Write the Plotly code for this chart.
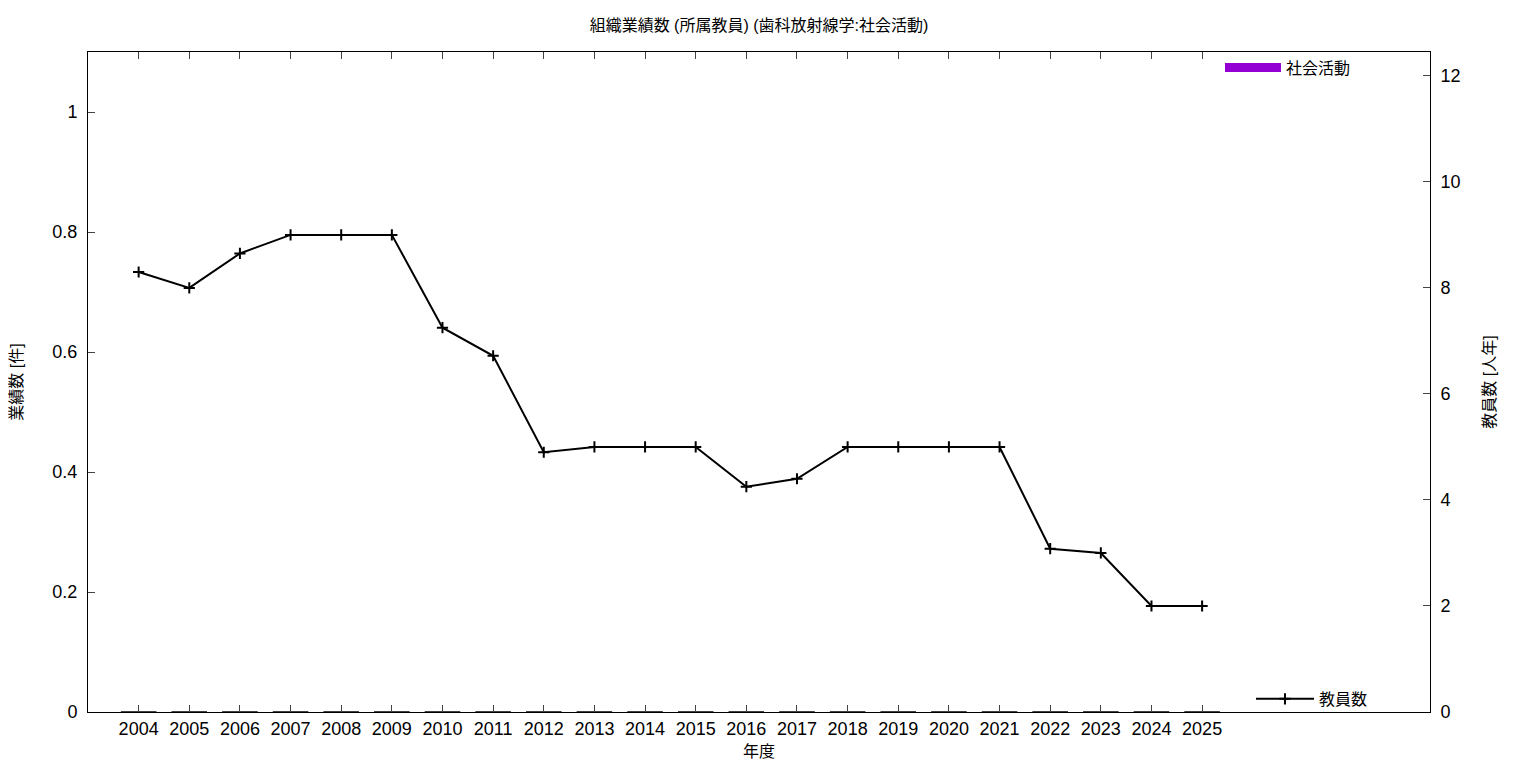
import plotly.graph_objects as go

years = list(range(2004, 2026))
social_activity = [0] * 22
staff = [8.3, 8.0, 8.65, 9.0, 9.0, 9.0, 7.25, 6.72, 4.9, 5.0, 5.0, 5.0,
         4.25, 4.4, 5.0, 5.0, 5.0, 5.0, 3.08, 3.0, 2.0, 2.0]

FONT = "Liberation Sans, Noto Sans CJK JP, sans-serif"
PURPLE = "#9400D3"

fig = go.Figure()
fig.add_trace(go.Bar(
    x=years, y=social_activity, name="社会活動",
    marker=dict(color=PURPLE, line=dict(color="black", width=1)),
    yaxis="y", legendgroup="social", showlegend=False,
))
# legend entry for the bar series (wide rectangle style)
fig.add_trace(go.Scatter(
    x=[None], y=[None], name="社会活動", mode="lines",
    line=dict(color=PURPLE, width=9),
    yaxis="y", legend="legend", legendgroup="social", showlegend=True,
))
fig.add_trace(go.Scatter(
    x=years, y=staff, name="教員数", mode="lines+markers",
    line=dict(color="black", width=2),
    marker=dict(symbol="cross-thin", size=8, line=dict(color="black", width=2)),
    yaxis="y2", legend="legend2", showlegend=True,
))

fig.update_layout(
    width=1520, height=752,
    showlegend=True,
    margin=dict(l=80, r=98, t=44, b=48, autoexpand=False),
    paper_bgcolor="white", plot_bgcolor="white",
    font=dict(family=FONT, size=18, color="black"),
    title=dict(text="組織業績数 (所属教員) (歯科放射線学:社会活動)", xref="paper", x=0.5,
               xanchor="center", y=1 - 17 / 752, yanchor="middle", font=dict(size=16)),
    xaxis=dict(range=[2003, 2029.5], tickmode="array", tickvals=years,
               ticktext=[str(y) for y in years], ticks="inside", ticklen=7,
               showline=True, linecolor="black", linewidth=1, mirror="ticks",
               showgrid=False, zeroline=False, tickfont=dict(size=18),
               automargin=False,
               title=dict(text="年度", font=dict(size=16), standoff=15)),
    yaxis=dict(range=[0, 1.1], tickvals=[0, 0.2, 0.4, 0.6, 0.8, 1],
               ticktext=["0", "0.2", "0.4", "0.6", "0.8", "1"],
               ticks="inside", ticklen=7, showline=True, linecolor="black",
               linewidth=1, showgrid=False, zeroline=False,
               tickfont=dict(size=18), ticklabelstandoff=6, automargin=False,
               title=dict(text="業績数 [件]", font=dict(size=16), standoff=32)),
    yaxis2=dict(range=[0, 12.45], tickvals=[0, 2, 4, 6, 8, 10, 12],
                overlaying="y", side="right", ticks="inside", ticklen=7,
                showline=True, linecolor="black", linewidth=1, showgrid=False,
                zeroline=False, tickfont=dict(size=18), ticklabelstandoff=6,
                automargin=False,
                title=dict(text="教員数 [人年]", font=dict(size=16), standoff=24)),
    legend=dict(x=0.8435, y=1.002, xanchor="left", yanchor="top",
                bgcolor="rgba(0,0,0,0)", font=dict(size=16), itemwidth=56),
    legend2=dict(x=0.8666, y=-0.006, xanchor="left", yanchor="bottom",
                 bgcolor="rgba(0,0,0,0)", font=dict(size=16), itemwidth=58),
    bargap=0.3,
)

fig.write_html("out.html")
